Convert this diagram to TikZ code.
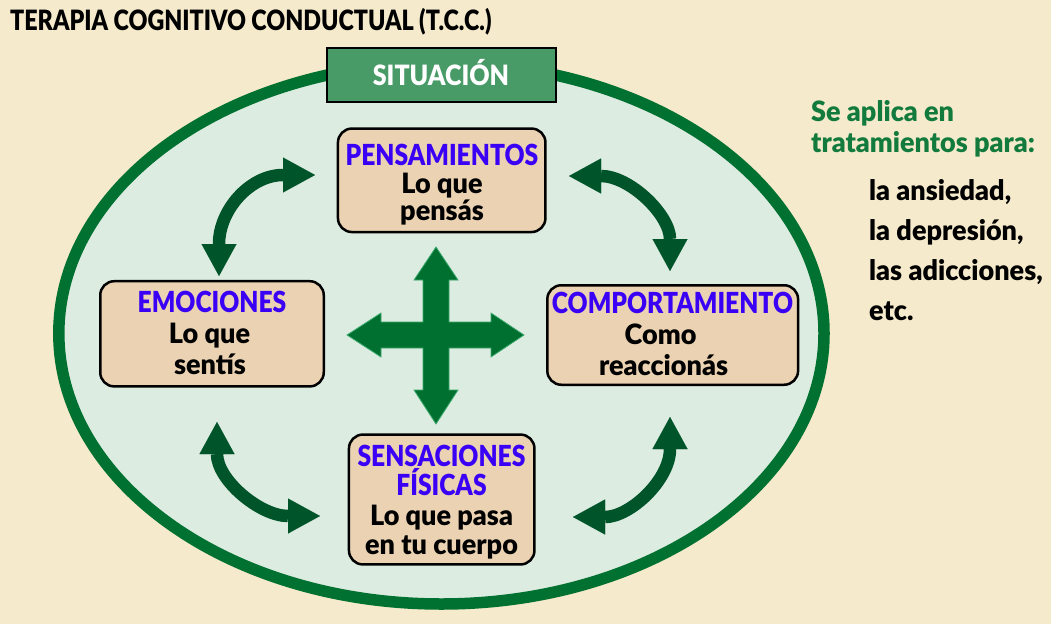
\documentclass[tikz,border=0pt]{standalone}
\usepackage{fontspec}
\setmainfont{Lato}[BoldFont={Lato Black}, FakeStretch=0.965]
\newfontfamily\hdfont{Lato}[BoldFont={Lato Black}, FakeStretch=0.85]
\newfontfamily\ttlfont{Lato}[BoldFont={Lato Black}, FakeStretch=0.832]
\newfontfamily\sitfont{Lato}[BoldFont={Lato Black}, FakeStretch=0.893]
\usetikzlibrary{arrows.meta}
\definecolor{bg}{RGB}{245,235,204}
\definecolor{mint}{RGB}{221,236,225}
\definecolor{ring}{RGB}{0,113,48}
\definecolor{sit}{RGB}{72,155,103}
\definecolor{tanbox}{RGB}{234,210,178}
\definecolor{hblue}{RGB}{58,0,245}
\definecolor{darr}{RGB}{0,84,42}
\definecolor{crossfill}{RGB}{0,112,48}
\definecolor{crossedge}{RGB}{60,170,110}
\definecolor{gtext}{RGB}{18,122,60}
\newcommand\hdtxt[1]{{\hdfont\bfseries\color{hblue}\fontsize{29}{30}\selectfont #1}}
\begin{document}
\begin{tikzpicture}[x=1pt,y=-1pt,
  box/.style={rectangle, draw=black, line width=2.5pt, rounded corners=14pt, fill=tanbox, inner sep=0pt},
  btext/.style={anchor=north, inner sep=0pt, align=center, text=black},
  carrow/.style={draw=darr, line width=12.5pt,
    {Triangle[length=32pt,width=35pt,line width=0.01pt]}-{Triangle[length=32pt,width=35pt,line width=0.01pt]}},
  ]
\useasboundingbox (0,0) rectangle (1051,624);
\fill[bg] (0,0) rectangle (1051,624);

% title
\node[anchor=base west, inner sep=0pt, font=\ttlfont\bfseries\fontsize{28}{30}\selectfont] (title) at (10,30) {TERAPIA COGNITIVO CONDUCTUAL (T.C.C.)};

% big ellipse
\draw[ring, fill=mint, line width=11.5pt] (441.4,333.4) ellipse [x radius=382.6, y radius=270.6];

% situacion box
\node[rectangle, draw=black, line width=2pt, fill=sit, minimum width=228.7pt, minimum height=54pt, inner sep=0pt] (sit) at (441.3,75.3) {};
\node[anchor=base, inner sep=0pt, text=white, font=\sitfont\bfseries\fontsize{28}{30}\selectfont] (sit-t) at (441,85) {SITUACIÓN};

% boxes
\node[box, minimum width=207.5pt, minimum height=103.5pt] (pens) at (441.7,180.3) {};
\node[box, minimum width=223.5pt, minimum height=105.2pt] (emo) at (212,333.8) {};
\node[box, minimum width=250.8pt, minimum height=99.5pt] (comp) at (672.7,335) {};
\node[box, minimum width=185.5pt, minimum height=129.9pt] (sens) at (441.7,499.5) {};

\node[btext, font=\bfseries\fontsize{28}{27.5}\selectfont] (pens-t) at (442,144) {\rule{0pt}{21pt}\hdtxt{PENSAMIENTOS}\\Lo que\\pensás};
\node[btext, font=\bfseries\fontsize{28}{30.8}\selectfont] (emo-t) at (212,291.3) {\rule{0pt}{21pt}\hdtxt{EMOCIONES}\\Lo que\kern5pt\\sentís\kern4pt};
\node[btext, font=\bfseries\fontsize{28}{30.8}\selectfont] (comp-t) at (672.5,292.3) {\rule{0pt}{21pt}\hdtxt{COMPORTAMIENTO}\\Como\kern24pt\\reaccionás\kern18pt};
\node[btext, font=\bfseries\fontsize{28}{29.4}\selectfont] (sens-t) at (441.5,444.7) {\rule{0pt}{21pt}\hdtxt{SENSACIONES}\\\hdtxt{FÍSICAS}\\Lo que pasa\\en tu cuerpo};

% cross arrow
\fill[crossfill, draw=crossedge, line width=0.8pt]
  (436,247) -- (458,280) -- (449,280) -- (449,322) -- (491,322) -- (491,313) -- (524,335)
  -- (491,357) -- (491,348) -- (449,348) -- (449,390) -- (458,390) -- (436,424)
  -- (414,390) -- (423,390) -- (423,348) -- (381,348) -- (381,357) -- (347,335)
  -- (381,313) -- (381,322) -- (423,322) -- (423,280) -- (414,280) -- cycle;

% curved double arrows
\coordinate (a1s) at (219,276); \coordinate (a1e) at (315,175);
\coordinate (a2s) at (569,176); \coordinate (a2e) at (670,271);
\coordinate (a3s) at (217,422); \coordinate (a3e) at (320,516);
\coordinate (a4s) at (573,517); \coordinate (a4e) at (670,417);
\draw[carrow] (a1s) .. controls (219,210) and (250,175) .. (a1e);
\draw[carrow] (a2s) .. controls (630,176) and (670,215) .. (a2e);
\draw[carrow] (a3s) .. controls (217,480) and (260,516) .. (a3e);
\draw[carrow] (a4s) .. controls (630,517) and (670,480) .. (a4e);

% right text
\node[anchor=north west, inner sep=0pt, align=left, text=gtext, font=\bfseries\fontsize{28}{31}\selectfont] (apl) at (811,99.7) {\rule{0pt}{22pt}Se aplica en\\tratamientos para:};
\node[anchor=north west, inner sep=0pt, align=left, text=black, font=\bfseries\fontsize{28}{40}\selectfont] (lista) at (869,178) {\rule{0pt}{22pt}la ansiedad,\\la depresión,\\las adicciones,\\etc.};
\end{tikzpicture}
\end{document}
